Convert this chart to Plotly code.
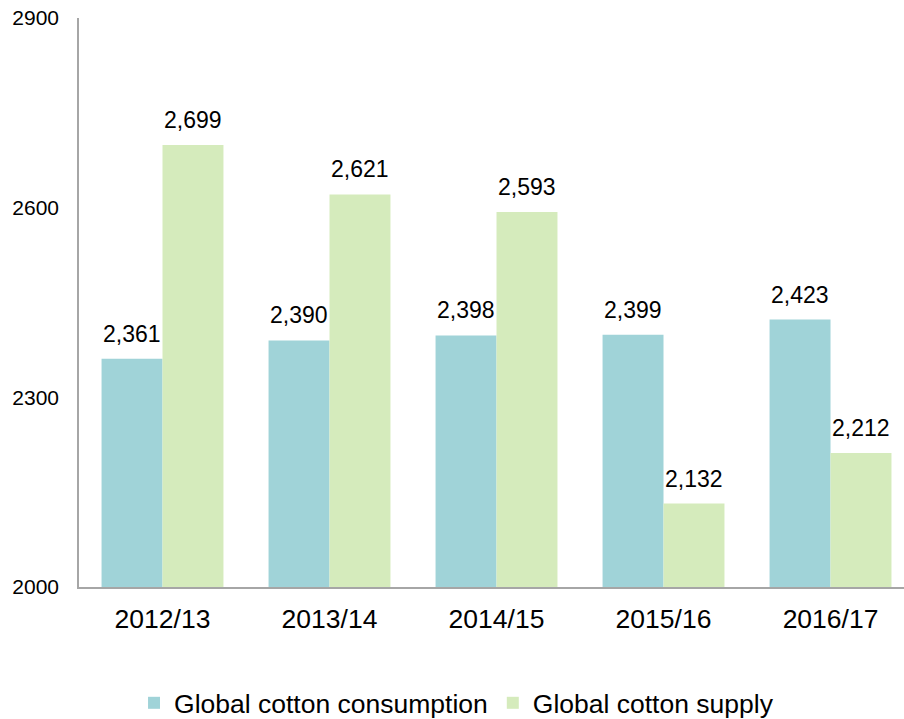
import plotly.graph_objects as go

# Cotton market balance by season (thousand tonnes)
seasons = ["2012/13", "2013/14", "2014/15", "2015/16", "2016/17"]
consumption = [2361, 2390, 2398, 2399, 2423]
supply = [2699, 2621, 2593, 2132, 2212]
y_ticks = [2000, 2300, 2600, 2900]

BLUE = "#A0D3D8"
GREEN = "#D5EBBC"
AXIS_GREY = "#A6A6A6"
FONT = "Liberation Sans, Arial, sans-serif"

pos = list(range(len(seasons)))
bar_w = 0.365

fig = go.Figure()
fig.add_trace(go.Bar(
    x=pos, y=consumption, name="Global cotton consumption",
    marker=dict(color=BLUE, line=dict(width=0)),
    width=bar_w, offset=-bar_w,
))
fig.add_trace(go.Bar(
    x=pos, y=supply, name="Global cotton supply",
    marker=dict(color=GREEN, line=dict(width=0)),
    width=bar_w, offset=0,
))

# value labels above each bar
annotations = []
for i, (c, s) in enumerate(zip(consumption, supply)):
    for val, dx in ((c, -bar_w / 2), (s, bar_w / 2)):
        annotations.append(dict(
            x=i + dx, y=val, xref="x", yref="y",
            text=f"{val:,}", showarrow=False,
            yanchor="bottom", yshift=10,
            font=dict(family=FONT, size=23, color="#000000"),
        ))

fig.update_layout(
    width=904, height=719,
    margin=dict(l=79, r=0, t=18, b=132, autoexpand=False),
    paper_bgcolor="white", plot_bgcolor="white",
    barmode="overlay",
    showlegend=True,
    legend=dict(
        orientation="h", x=0.0667, xanchor="left", y=-0.204, yanchor="middle",
        font=dict(family=FONT, size=26.5, color="#000000"),
        itemwidth=30, traceorder="normal",
    ),
    annotations=annotations,
    font=dict(family=FONT, color="#000000"),
)

fig.update_xaxes(
    range=[-0.5, 4.44],
    tickmode="array", tickvals=pos, ticktext=seasons,
    showgrid=False, zeroline=False,
    showline=True, linecolor=AXIS_GREY, linewidth=2,
    ticks="", ticklabelstandoff=7,
    tickfont=dict(family=FONT, size=26.5, color="#000000"),
)
fig.update_yaxes(
    range=[2000, 2900],
    tickmode="array", tickvals=y_ticks, ticktext=[str(v) for v in y_ticks],
    showgrid=False, zeroline=False,
    showline=True, linecolor=AXIS_GREY, linewidth=1.5,
    ticks="", ticklabelstandoff=14,
    tickfont=dict(family=FONT, size=21, color="#000000"),
)

fig.write_html("out.html")
